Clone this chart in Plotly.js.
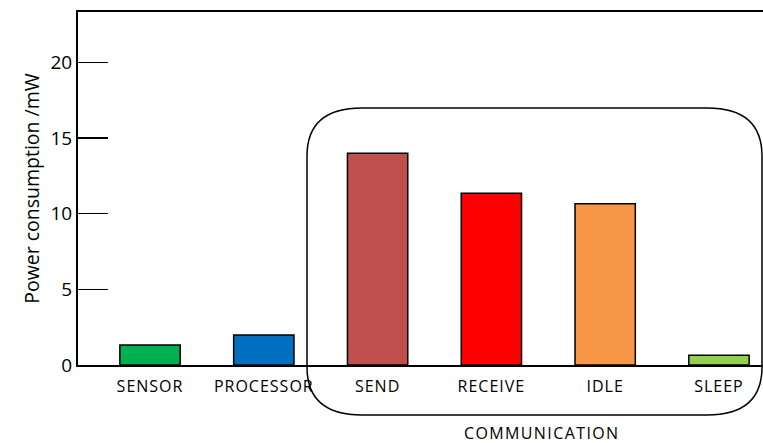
<!DOCTYPE html>
<html>
<head>
<meta charset="utf-8">
<script src="https://cdn.plot.ly/plotly-3.0.1.min.js"></script>
<style>
html,body{margin:0;padding:0;background:#fff;}
#chart{width:763px;height:443px;}
#chart .xtick text{letter-spacing:1px;}
#chart .annotation text{letter-spacing:1.4px;}
</style>
</head>
<body>
<div id="chart"></div>
<script>
const categories = ["SENSOR", "PROCESSOR", "SEND", "RECEIVE", "IDLE", "SLEEP"];
const powerMw = [1.32, 1.98, 14.0, 11.35, 10.65, 0.64];
const barColors = ["#00B050", "#0070C0", "#C0504D", "#FF0000", "#F79646", "#92D050"];
const yTickValues = [0, 5, 10, 15, 20];
const groupLabel = "COMMUNICATION";
const yTitle = "Power consumption /mW";

const W = 763, H = 443;
const mL = 78, mR = 0, mT = 12, mB = 78;
const pw = W - mL - mR, ph = H - mT - mB;
function px(xp) { return (xp - mL) / pw; }
function py(yp) { return (H - mB - yp) / ph; }

// rounded rectangle in paper coords
const rl = 307, rr = 762, rt = 108, rb = 415, rx = 55, ry = 48;
const path = [
  "M", px(rl + rx), py(rt),
  "L", px(rr - rx), py(rt),
  "Q", px(rr), py(rt), px(rr), py(rt + ry),
  "L", px(rr), py(rb - ry),
  "Q", px(rr), py(rb), px(rr - rx), py(rb),
  "L", px(rl + rx), py(rb),
  "Q", px(rl), py(rb), px(rl), py(rb - ry),
  "L", px(rl), py(rt + ry),
  "Q", px(rl), py(rt), px(rl + rx), py(rt),
  "Z"
].join(" ");

const font = "Open Sans, sans-serif";

const trace = {
  type: "bar",
  x: categories,
  y: powerMw,
  width: 0.53,
  marker: { color: barColors, line: { color: "#000", width: 1.5 } },
  hoverinfo: "x+y"
};

const layout = {
  width: W, height: H,
  margin: { l: mL, r: mR, t: mT, b: mB, pad: 0 },
  paper_bgcolor: "#fff", plot_bgcolor: "#fff",
  showlegend: false,
  font: { family: font, color: "#000" },
  xaxis: {
    type: "category",
    range: [-0.633, 5.387],
    showline: true, mirror: true, linecolor: "#000", linewidth: 2,
    ticks: "", showgrid: false, zeroline: false,
    ticklabelstandoff: 6,
    tickfont: { family: font, size: 16, color: "#000" }
  },
  yaxis: {
    range: [0, 23.33],
    tickvals: yTickValues,
    ticks: "inside", ticklen: 30, tickwidth: 1.5, tickcolor: "#000",
    showline: true, linecolor: "#000", linewidth: 2,
    showgrid: false, zeroline: false,
    tickfont: { family: font, size: 19, color: "#000" },
    title: { text: yTitle, font: { family: font, size: 19.5, color: "#000" }, standoff: 6 }
  },
  shapes: [{
    type: "path", xref: "paper", yref: "paper", path: path,
    line: { color: "#000", width: 1.5 }, fillcolor: "rgba(0,0,0,0)", layer: "above"
  }],
  annotations: [{
    xref: "paper", yref: "paper", x: px(541), y: py(433),
    text: groupLabel, showarrow: false,
    font: { family: font, size: 16, color: "#000" },
    xanchor: "center", yanchor: "middle"
  }]
};

Plotly.newPlot("chart", [trace], layout, { displayModeBar: false, staticPlot: true });
</script>
</body>
</html>
